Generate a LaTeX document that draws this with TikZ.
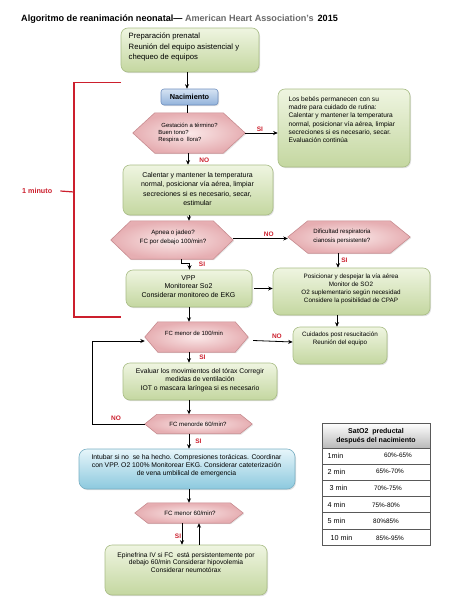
\documentclass[tikz,border=0pt]{standalone}
\usepackage{fontspec}
\setmainfont{Liberation Sans}
\usetikzlibrary{shadows,calc,arrows.meta}
\definecolor{gtop}{HTML}{EFF5E1}
\definecolor{gbot}{HTML}{C4D7A0}
\definecolor{gborder}{HTML}{A9BD86}
\definecolor{pinkin}{HTML}{FAE8E8}
\definecolor{pinkout}{HTML}{E6AEB2}
\definecolor{pinkborder}{HTML}{C88C90}
\definecolor{btop}{HTML}{D5E3F3}
\definecolor{bbot}{HTML}{93B3DB}
\definecolor{bborder}{HTML}{6F8FBF}
\definecolor{ctop}{HTML}{E6F5FA}
\definecolor{cbot}{HTML}{8CC9DE}
\definecolor{cborder}{HTML}{7AB0C4}
\definecolor{myred}{HTML}{CC1F2D}
\definecolor{titlegray}{HTML}{6A6A6A}
\newcommand\hexpath[2]{\path[hexfill] (#1.west) -- ($(#1.north west)+(#2,0)$) -- ($(#1.north east)+(-#2,0)$) -- (#1.east) -- ($(#1.south east)+(-#2,0)$) -- ($(#1.south west)+(#2,0)$) -- cycle;}
\begin{document}
\begin{tikzpicture}[x=1pt,y=-1pt,
  gbox/.style={draw=gborder, line width=0.6pt, rounded corners=7pt, top color=gtop, bottom color=gbot,
    drop shadow={opacity=0.25, shadow xshift=1pt, shadow yshift=-1.2pt}, inner sep=0pt},
  nacbox/.style={draw=bborder, line width=0.6pt, rounded corners=3pt, top color=btop, bottom color=bbot,
    drop shadow={opacity=0.25, shadow xshift=1pt, shadow yshift=-1pt}, inner sep=0pt},
  cbox/.style={draw=cborder, line width=0.6pt, rounded corners=8pt, top color=ctop, bottom color=cbot,
    drop shadow={opacity=0.25, shadow xshift=1pt, shadow yshift=-1.2pt}, inner sep=0pt},
  hexnode/.style={inner sep=0pt},
  hexfill/.style={draw=pinkborder, line width=0.6pt, inner color=pinkin, outer color=pinkout,
    drop shadow={opacity=0.2, shadow xshift=1pt, shadow yshift=-1pt}},
  txt/.style={inner sep=0pt, align=center, font=\fontsize{6.5}{8.5}\selectfont},
  txtl/.style={inner sep=0pt, align=left, font=\fontsize{6.5}{8.5}\selectfont},
  lab/.style={inner sep=0pt, text=myred, font=\bfseries\fontsize{6.5}{7.5}\selectfont},
  arr/.style={-{Stealth[length=4.5pt,width=4pt]}, line width=0.8pt},
  ln/.style={line width=0.8pt},
  redln/.style={draw=myred, line width=1.2pt},
  rowbox/.style={draw=gray!70!black, line width=0.6pt, fill=white, minimum width=108pt, minimum height=16.17pt, inner sep=0pt},
  rowl/.style={inner sep=0pt, anchor=west, font=\fontsize{7.2}{8}\selectfont},
  rowv/.style={inner sep=0pt, font=\fontsize{6.4}{8}\selectfont}
]
\useasboundingbox (0,0) rectangle (474,613);
\fill[white] (0,0) rectangle (474,613);

% title
\node[inner sep=0pt, anchor=west, font=\bfseries\fontsize{9.1}{10}\selectfont] (title) at (21,19.5)
  {Algoritmo de reanimación neonatal—\ \textcolor{titlegray}{American Heart Association's}\hspace{4pt}2015};

% red bracket
\coordinate (bt) at (121,82.5);
\coordinate (bb) at (121,317);
\coordinate (bm) at (74,192);
\draw[redln] (bt) -- (74,82.5) -- (74,317) -- (bb);
\node[lab, anchor=west, font=\bfseries\fontsize{7.2}{8}\selectfont] (minuto) at (22,191) {1 minuto};
\draw[redln] (minuto.east) ++(8,0) -- (bm);

% boxes
\node[gbox, minimum width=138pt, minimum height=44pt] (box1) at (190,50) {};
\node[txtl, font=\fontsize{7.7}{10.6}\selectfont, anchor=west] (box1t) at (128.5,47) {Preparación prenatal\\Reunión del equipo asistencial y\\chequeo de equipos};

\node[nacbox, minimum width=57pt, minimum height=16pt] (nac) at (189.5,97) {};
\node[inner sep=0pt, font=\bfseries\fontsize{7.3}{8}\selectfont] (nact) at (189.5,97) {Nacimiento};

\node[hexnode, minimum width=112pt, minimum height=40pt] (h1) at (189,133) {};
\hexpath{h1}{22}
\node[txtl, font=\fontsize{5.9}{7}\selectfont] (h1t) at (188,133) {\hspace{3pt}Gestación a término?\\Buen tono?\\Respira o\ \ llora?};

\node[gbox, minimum width=132pt, minimum height=78pt] (bebes) at (344,128) {};
\node[txtl, font=\fontsize{6.6}{8.2}\selectfont, anchor=north west] (bebest) at (288.5,96.5) {Los bebés permanecen con su\\madre para cuidado de rutina:\\Calentar y mantener la temperatura\\normal, posicionar vía aérea, limpiar\\secreciones si es necesario, secar.\\Evaluación continúa};

\node[gbox, minimum width=150pt, minimum height=50pt] (calent) at (198,190) {};
\node[txt, font=\fontsize{7}{9.2}\selectfont] (calentt) at (197.5,189) {Calentar y mantener la temperatura\\normal, posicionar vía aérea, limpiar\\secreciones si es necesario, secar,\\estimular};

\node[hexnode, minimum width=122pt, minimum height=38pt] (h2) at (172,240) {};
\hexpath{h2}{20}
\node[txt, font=\fontsize{6.2}{8.8}\selectfont] (h2t) at (173,237.5) {Apnea o jadeo?\\FC por debajo 100/min?};

\node[hexnode, minimum width=122pt, minimum height=32pt] (h3) at (349,237) {};
\hexpath{h3}{20}
\node[txtl, font=\fontsize{6.1}{8.8}\selectfont] (h3t) at (342,236.5) {Dificultad respiratoria\\cianosis persistente?};

\node[gbox, minimum width=126pt, minimum height=37pt] (vpp) at (189,288.5) {};
\node[txt, font=\fontsize{7}{8.5}\selectfont] (vppt) at (188.5,286.5) {VPP\\Monitorear So2\\Considerar monitoreo de EKG};

\node[gbox, minimum width=157pt, minimum height=47pt] (posic) at (351.5,291.5) {};
\node[txt, font=\fontsize{6.3}{7.9}\selectfont] (posict) at (351,289) {Posicionar y despejar la vía aérea\\Monitor de SO2\\O2 suplementario según necesidad\\Considere la posibilidad de CPAP};

\node[gbox, minimum width=94pt, minimum height=37pt] (cuid) at (340,345.5) {};
\node[txt, font=\fontsize{6.3}{7.7}\selectfont] (cuidt) at (340,339) {Cuidados post resucitación\\Reunión del equipo};

\node[hexnode, minimum width=103pt, minimum height=30pt] (h4) at (196.5,337) {};
\hexpath{h4}{13}
\node[txt, font=\fontsize{6}{7}\selectfont] (h4t) at (194,333.5) {FC menor de 100/min};

\node[gbox, minimum width=154pt, minimum height=37pt] (eval) at (200,381.5) {};
\node[txt, font=\fontsize{6.8}{8.3}\selectfont] (evalt) at (200,380) {Evaluar los movimientos del tórax Corregir\\medidas de ventilación\\IOT o mascara laríngea si es necesario};

\node[hexnode, minimum width=107pt, minimum height=19pt] (h5) at (198.5,424) {};
\hexpath{h5}{12}
\node[txt, font=\fontsize{6.1}{7}\selectfont] (h5t) at (198,424) {FC menorde 60/min?};

\node[cbox, minimum width=216pt, minimum height=40pt] (intub) at (187,469) {};
\node[txt, font=\fontsize{6.8}{8.2}\selectfont] (intubt) at (186.5,465.5) {Intubar si no\ \ se ha hecho. Compresiones torácicas. Coordinar\\con VPP. O2 100\% Monitorear EKG. Considerar cateterización\\de vena umbilical de emergencia};

\node[hexnode, minimum width=108pt, minimum height=20pt] (h6) at (189,513) {};
\hexpath{h6}{13}
\node[txt, font=\fontsize{6.2}{7}\selectfont] (h6t) at (190,513.5) {FC menor 60/min?};

\node[gbox, minimum width=162pt, minimum height=50pt] (epi) at (186,570) {};
\node[txt, font=\fontsize{6.7}{7.6}\selectfont] (epit) at (186,562.5) {Epinefrina IV si FC\ \ está persistentemente por\\debajo 60/min Considerar hipovolemia\\Considerar neumotórax};

% connectors
\draw[arr] (box1.south -| 187,0) -- (nac.north -| 187,0);
\draw[ln] (nac.south -| 187,0) -- (h1.north -| 187,0);
\draw[arr] (h1.east) -- (bebes.west |- h1.east) node[lab, pos=0.45, above=1.5pt] (si1) {SI};
\draw[arr] (h1.south -| 188,0) -- (calent.north -| 188,0) node[lab, pos=0.6, right=11pt] (no1) {NO};
\draw[arr] (calent.south -| 189,0) -- (h2.north -| 189,0);
\draw[arr] (h2.east |- 0,238.5) -- (h3.west |- 0,238.5) node[lab, pos=0.65, above=2pt] (no2) {NO};
\draw[arr] (h3.south -| 338,0) -- (posic.north -| 338,0) node[lab, midway, right=3pt] (si3) {SI};
\coordinate (j1) at (181.7,263.5);
\coordinate (j2) at (189.5,263.5);
\draw[arr] (h2.south -| j1) -- (j1) -- (j2) -- (vpp.north -| j2);
\node[lab] (si2) at (202,264) {SI};
\draw[arr] ($(vpp.east)+(2,0)$) -- (posic.west |- vpp.east);
\draw[arr] (posic.south -| 337,0) -- (cuid.north -| 337,0);
\draw[arr] (vpp.south -| 189,0) -- (h4.north -| 189,0);
\draw[arr] ($(h4.east)+(5,3.5)$) -- ($(cuid.west)+(0,-3.5)$) node[lab, pos=0.6, above=2.5pt] (no4) {NO};
\draw[arr] (h4.south -| 189,0) -- (eval.north -| 189,0) node[lab, midway, right=10pt] (si4) {SI};
\draw[arr] (eval.south -| 189,0) -- (h5.north -| 189,0);
\coordinate (lp) at (92,424);
\draw[arr] (h5.west) -- (lp) |- ($(h4.west)+(0,4)$);
\node[lab] (no5) at (116,418) {NO};
\draw[arr] (h5.south -| 189,0) -- (intub.north -| 189,0) node[lab, midway, right=6pt] (si5) {SI};
\draw[arr] (intub.south -| 189,0) -- (h6.north -| 189,0);
\draw[arr] (h6.south -| 182,0) -- (epi.north -| 182,0) node[lab, pos=0.62, left=0.5pt] (si6) {SI};
\draw[arr] (epi.north -| 199,0) -- (h6.south -| 199,0);

% table
\node[draw=gray!70!black, line width=0.7pt, top color=white, bottom color=gray!55, minimum width=108pt, minimum height=25pt, inner sep=0pt] (th) at (376,435.5) {};
\node[inner sep=0pt, align=center, font=\bfseries\fontsize{7}{8.7}\selectfont] (tht) at (376,436) {SatO2\ \ preductal\\después del nacimiento};
\node[rowbox] (r1) at (376,456.1) {};
\node[rowbox] (r2) at (376,472.2) {};
\node[rowbox] (r3) at (376,488.4) {};
\node[rowbox] (r4) at (376,504.6) {};
\node[rowbox] (r5) at (376,520.8) {};
\node[rowbox] (r6) at (376,536.9) {};
\node[rowl] (l1) at (327.5,455.7) {1min};
\node[rowl] (l2) at (327.5,471.7) {2 min};
\node[rowl] (l3) at (329.5,488) {3 min};
\node[rowl] (l4) at (327.5,505) {4 min};
\node[rowl] (l5) at (327.5,521) {5 min};
\node[rowl] (l6) at (330.5,538) {10 min};
\node[rowv] (v1) at (398,455.7) {60\%-65\%};
\node[rowv] (v2) at (390,471.7) {65\%-70\%};
\node[rowv] (v3) at (388,488) {70\%-75\%};
\node[rowv] (v4) at (386,505) {75\%-80\%};
\node[rowv] (v5) at (386,521) {80\%85\%};
\node[rowv] (v6) at (390,538) {85\%-95\%};
\end{tikzpicture}
\end{document}
